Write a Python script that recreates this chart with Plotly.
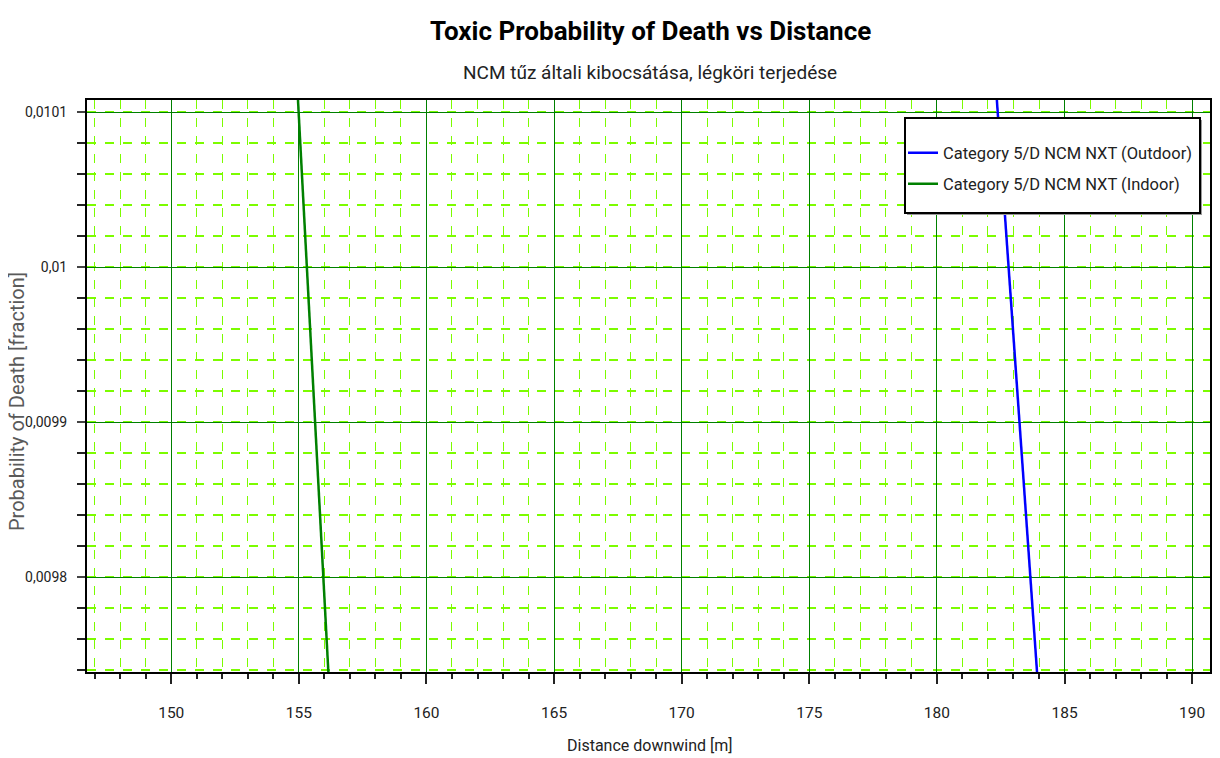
import plotly.graph_objects as go

# Data
outdoor_distance = [182.34, 183.94]
outdoor_prob = [0.010110, 0.009735]
indoor_distance = [154.96, 156.17]
indoor_prob = [0.010110, 0.009735]

x_tick_vals = [150, 155, 160, 165, 170, 175, 180, 185, 190]
x_tick_text = ["150", "155", "160", "165", "170", "175", "180", "185", "190"]
y_tick_vals = [0.0098, 0.0099, 0.0100, 0.0101]
y_tick_text = ["0,0098", "0,0099", "0,01", "0,0101"]

FONT = "Roboto, sans-serif"

# The page body adds an 8px margin, so the figure is drawn 8px smaller and shifted
OFF = 8
FW, FH = 1220 - OFF, 758 - OFF
# plot area geometry in screenshot pixels
L, R, T, B = 87, 1210, 100, 672
W, H = R - L, B - T


def px(xp):
    return (xp - L) / W


def py(yp):
    return (B - yp) / H


fig = go.Figure()
fig.add_trace(go.Scatter(x=outdoor_distance, y=outdoor_prob, mode="lines",
                         name="Category 5/D NCM NXT (Outdoor)", legend="legend",
                         line=dict(color="#0000FF", width=2.5)))
fig.add_trace(go.Scatter(x=indoor_distance, y=indoor_prob, mode="lines",
                         name="Category 5/D NCM NXT (Indoor)", legend="legend2",
                         line=dict(color="#008000", width=2.5)))

legend_common = dict(xanchor="left", yanchor="middle", bgcolor="rgba(255,255,255,0)",
                     borderwidth=0, font=dict(family=FONT, size=16.5, color="#222222"))

fig.update_layout(
    width=FW, height=FH,
    margin=dict(l=L - OFF, r=1220 - R, t=T - OFF, b=758 - B, autoexpand=False),
    paper_bgcolor="white", plot_bgcolor="white",
    font=dict(family=FONT, size=16, color="#222222"),
    showlegend=True,
    legend=dict(x=px(903), y=py(153), **legend_common),
    legend2=dict(x=px(903), y=py(184), **legend_common),
    shapes=[
        dict(type="rect", xref="paper", yref="paper",
             x0=px(907), x1=px(1202), y0=py(215), y1=py(120),
             fillcolor="#9a9a9a", line=dict(width=0), layer="above"),
        dict(type="rect", xref="paper", yref="paper",
             x0=px(905), x1=px(1200), y0=py(213), y1=py(118),
             fillcolor="white", line=dict(color="black", width=2), layer="above"),
    ],
    annotations=[
        dict(text="<b>Toxic Probability of Death vs Distance</b>", xref="paper", yref="paper",
             x=px(650), y=py(31), xanchor="center", yanchor="middle", showarrow=False,
             font=dict(family=FONT, size=26, color="#000000")),
        dict(text="NCM tűz általi kibocsátása, légköri terjedése", xref="paper", yref="paper",
             x=px(650), y=py(73), xanchor="center", yanchor="middle", showarrow=False,
             font=dict(family=FONT, size=19, color="#222222")),
        dict(text="Probability of Death [fraction]", xref="paper", yref="paper",
             x=px(17), y=py(402), xanchor="center", yanchor="middle", showarrow=False,
             textangle=-90, borderpad=0,
             font=dict(family=FONT, size=20, color="#5a5a5a")),
        dict(text="Distance downwind [m]", xref="paper", yref="paper",
             x=px(650), y=py(745), xanchor="center", yanchor="middle", showarrow=False,
             font=dict(family=FONT, size=16, color="#222222")),
    ],
)

fig.update_xaxes(
    range=[146.7, 190.7], automargin=False,
    tickvals=x_tick_vals, ticktext=x_tick_text,
    tickfont=dict(size=15.5),
    showgrid=True, gridcolor="#008000", gridwidth=1,
    showline=True, linecolor="black", linewidth=2, mirror=True,
    ticks="outside", ticklen=10, tickwidth=2, tickcolor="#222222",
    ticklabelstandoff=15,
    zeroline=False,
    minor=dict(dtick=1, tick0=0, showgrid=True, gridcolor="#7CFC00", griddash="dash",
               gridwidth=1, ticks="outside", ticklen=5, tickwidth=2, tickcolor="#222222"),
)
fig.update_yaxes(
    range=[0.009739, 0.010108], automargin=False,
    tickvals=y_tick_vals, ticktext=y_tick_text,
    tickfont=dict(size=14),
    showgrid=True, gridcolor="#008000", gridwidth=1,
    showline=True, linecolor="black", linewidth=2, mirror=True,
    ticks="outside", ticklen=8, tickwidth=2, tickcolor="#444444",
    ticklabelstandoff=7,
    zeroline=False,
    minor=dict(dtick=0.00002, tick0=0, showgrid=True, gridcolor="#7CFC00", griddash="dash",
               gridwidth=1.5, ticks="outside", ticklen=8, tickwidth=2, tickcolor="#222222"),
)

fig.write_html("out.html")
